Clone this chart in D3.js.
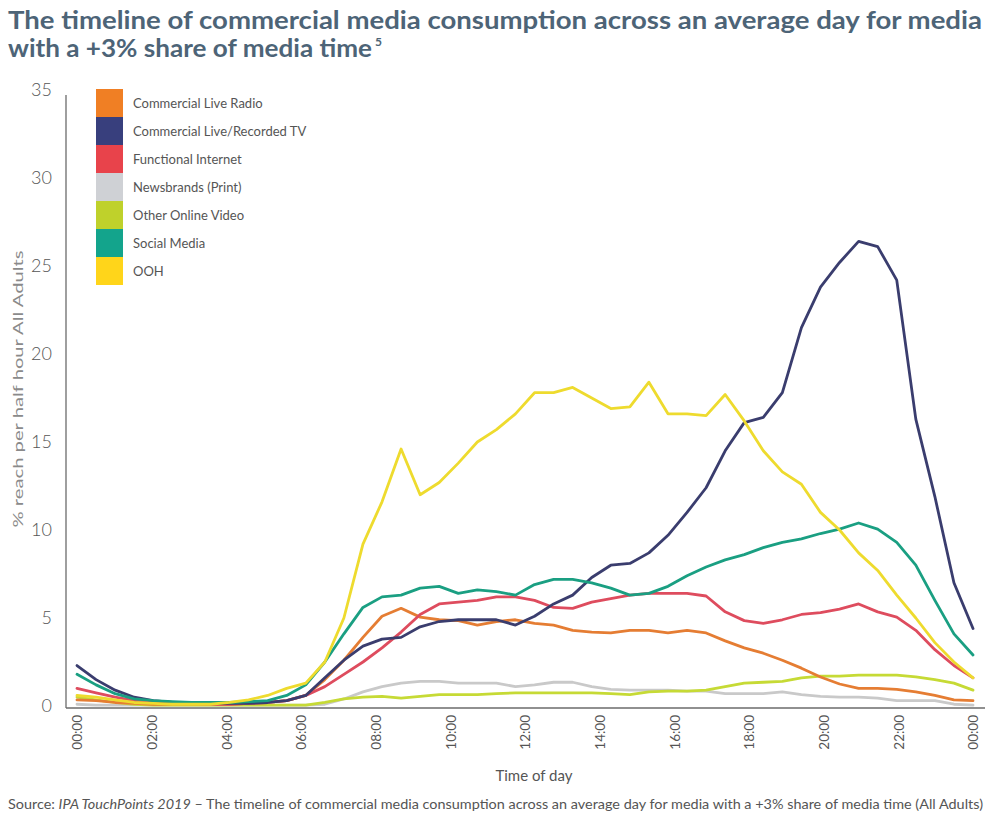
<!DOCTYPE html>
<html><head><meta charset="utf-8">
<script src="https://cdn.jsdelivr.net/npm/d3@7"></script>
<style>
html,body{margin:0;padding:0;background:#fff;}
svg{display:block;font-family:Lato,"Open Sans",sans-serif;}
</style></head>
<body><svg id="c" width="1000" height="819"></svg>
<script>
const seriesNames = ["Commercial Live Radio","Commercial Live/Recorded TV","Functional Internet","Newsbrands (Print)","Other Online Video","Social Media","OOH"];
const seriesColors = ["#F07F24","#383F7D","#E8434B","#CFD1D5","#BFD12B","#13A48C","#FFD51A"];
const lineColors = ["#E57D33","#3A3D6E","#DE4C5E","#C9C9C9","#C6DA35","#1A9F82","#EEDB2E"];
const hourTicks = [0,2,4,6,8,10,12,14,16,18,20,22,24];
const yTicks = [0,5,10,15,20,25,30,35];

const radio = [0.35,0.3,0.2,0.15,0.1,0.1,0.1,0.1,0.1,0.15,0.2,0.3,0.6,1.5,2.6,3.9,5.1,5.55,5.05,4.9,4.85,4.6,4.8,4.9,4.7,4.6,4.3,4.2,4.15,4.3,4.3,4.15,4.3,4.15,3.7,3.3,3.0,2.6,2.15,1.65,1.25,1.0,1.0,0.95,0.8,0.6,0.35,0.3];
const tv = [2.3,1.5,0.9,0.5,0.3,0.2,0.2,0.15,0.15,0.15,0.2,0.3,0.6,1.6,2.6,3.4,3.8,3.9,4.5,4.8,4.9,4.9,4.9,4.6,5.1,5.8,6.3,7.3,8.0,8.1,8.7,9.7,11.0,12.4,14.5,16.1,16.4,17.8,21.5,23.8,25.2,26.4,26.1,24.2,16.3,11.9,7.0,4.4];
const internet = [1.0,0.75,0.5,0.3,0.2,0.15,0.15,0.1,0.1,0.15,0.2,0.3,0.6,1.1,1.8,2.5,3.3,4.2,5.2,5.8,5.9,6.0,6.2,6.2,6.0,5.6,5.55,5.9,6.1,6.3,6.4,6.4,6.4,6.25,5.35,4.85,4.7,4.9,5.2,5.3,5.5,5.8,5.35,5.05,4.3,3.2,2.3,1.6];
const newsbrands = [0.1,0.05,0.05,0.05,0.05,0.05,0.05,0.05,0.05,0.05,0.05,0.05,0.05,0.1,0.4,0.8,1.1,1.3,1.4,1.4,1.3,1.3,1.3,1.1,1.2,1.35,1.35,1.1,0.95,0.9,0.9,0.9,0.85,0.85,0.7,0.7,0.7,0.8,0.65,0.55,0.5,0.5,0.45,0.3,0.3,0.3,0.1,0.05];
const onlineVideo = [0.5,0.35,0.2,0.1,0.05,0.05,0.05,0.05,0.05,0.05,0.05,0.05,0.05,0.2,0.4,0.5,0.55,0.45,0.55,0.65,0.65,0.65,0.7,0.75,0.75,0.75,0.75,0.75,0.7,0.65,0.8,0.85,0.85,0.9,1.1,1.3,1.35,1.4,1.6,1.7,1.7,1.75,1.75,1.75,1.65,1.5,1.3,0.9];
const social = [1.8,1.2,0.7,0.4,0.3,0.25,0.2,0.2,0.2,0.25,0.3,0.6,1.2,2.5,4.1,5.6,6.2,6.3,6.7,6.8,6.4,6.6,6.5,6.3,6.9,7.2,7.2,7.0,6.7,6.3,6.4,6.8,7.4,7.9,8.3,8.6,9.0,9.3,9.5,9.8,10.05,10.4,10.05,9.3,8.0,6.0,4.1,2.9];
const ooh = [0.6,0.5,0.35,0.2,0.15,0.1,0.1,0.1,0.2,0.35,0.6,1.0,1.3,2.5,5.0,9.2,11.6,14.6,12.0,12.7,13.8,15.0,15.7,16.6,17.8,17.8,18.1,17.5,16.9,17.0,18.4,16.6,16.6,16.5,17.7,16.2,14.5,13.3,12.6,11.0,10.0,8.7,7.7,6.3,5.0,3.6,2.5,1.6];
const allSeries = [radio, tv, internet, newsbrands, onlineVideo, social, ooh];

const svg = d3.select("#c");
const X0 = 77, X1 = 973, Y0 = 706, Y35 = 90;
const xi = d3.scaleLinear().domain([0, radio.length - 1]).range([X0, X1]);
const xh = d3.scaleLinear().domain([0, 24]).range([X0, X1]);
const y = d3.scaleLinear().domain([0, 35]).range([Y0, Y35]);

// title
const title = svg.append("g").attr("fill","#4D6477").attr("font-weight","700").attr("font-size","24px");
title.append("text").attr("x",8).attr("y",29).attr("textLength",974).attr("lengthAdjust","spacingAndGlyphs")
  .text("The timeline of commercial media consumption across an average day for media");
title.append("text").attr("x",8).attr("y",57).attr("textLength",364).attr("lengthAdjust","spacingAndGlyphs")
  .text("with a +3% share of media time");
title.append("text").attr("x",375).attr("y",46).attr("font-size","12px").text("5");

// axes lines
svg.append("line").attr("x1",66).attr("x2",66).attr("y1",95).attr("y2",708).attr("stroke","#6b6b6b").attr("stroke-width",1.3);
svg.append("line").attr("x1",66).attr("x2",985).attr("y1",708).attr("y2",708).attr("stroke","#6b6b6b").attr("stroke-width",1.3);

// y axis
const yAxis = d3.axisLeft(y).tickValues(yTicks).tickSize(0).tickPadding(0);
const gy = svg.append("g").attr("transform","translate(52,0)").call(yAxis);
gy.select(".domain").remove();
gy.selectAll("text").attr("font-size","18px").attr("fill","#555").attr("font-family","Lato, sans-serif").attr("font-weight","300");

// x axis
const xAxis = d3.axisBottom(xh).tickValues(hourTicks).tickSize(0).tickPadding(0)
  .tickFormat(h => String(h % 24).padStart(2,"0") + ":00");
const gx = svg.append("g").attr("transform","translate(0,714)").call(xAxis);
gx.select(".domain").remove();
gx.selectAll("text").attr("font-size","13.5px").attr("fill","#555").attr("font-family","Lato, sans-serif")
  .attr("text-anchor","end").attr("transform","rotate(-90)").attr("dy","0.35em").attr("x",-1).attr("y",0);

// axis titles
svg.append("text").attr("transform","translate(23,389) rotate(-90)").attr("text-anchor","middle")
  .attr("font-size","14px").attr("fill","#8a8a8a").attr("textLength",277).attr("lengthAdjust","spacingAndGlyphs")
  .text("% reach per half hour All Adults");
svg.append("text").attr("x",534).attr("y",781).attr("text-anchor","middle")
  .attr("font-size","15px").attr("fill","#555").text("Time of day");

// source
const src = svg.append("text").attr("x",8).attr("y",809).attr("font-size","12.5px").attr("fill","#555")
  .attr("textLength",975).attr("lengthAdjust","spacingAndGlyphs");
src.append("tspan").text("Source: ");
src.append("tspan").attr("font-style","italic").text("IPA TouchPoints 2019");
src.append("tspan").text(" \u2013 The timeline of commercial media consumption across an average day for media with a +3% share of media time (All Adults)");

// lines
const line = d3.line().x((d,i)=>xi(i)).y(d=>y(d)).curve(d3.curveLinear);
const drawOrder = [3,4,0,2,1,5,6];
drawOrder.forEach(k=>{
  svg.append("path").datum(allSeries[k]).attr("d",line).attr("fill","none")
    .attr("stroke",lineColors[k]).attr("stroke-width",2.8).attr("stroke-linejoin","round").attr("stroke-linecap","round");
});

// legend
const lg = svg.append("g").attr("transform","translate(96,89)");
seriesNames.forEach((n,i)=>{
  lg.append("rect").attr("x",0).attr("y",i*28).attr("width",27).attr("height",28).attr("fill",seriesColors[i]);
  lg.append("text").attr("x",37).attr("y",i*28+14).attr("dy","0.35em").attr("font-size","13px").attr("fill","#555").text(n);
});
</script></body></html>
